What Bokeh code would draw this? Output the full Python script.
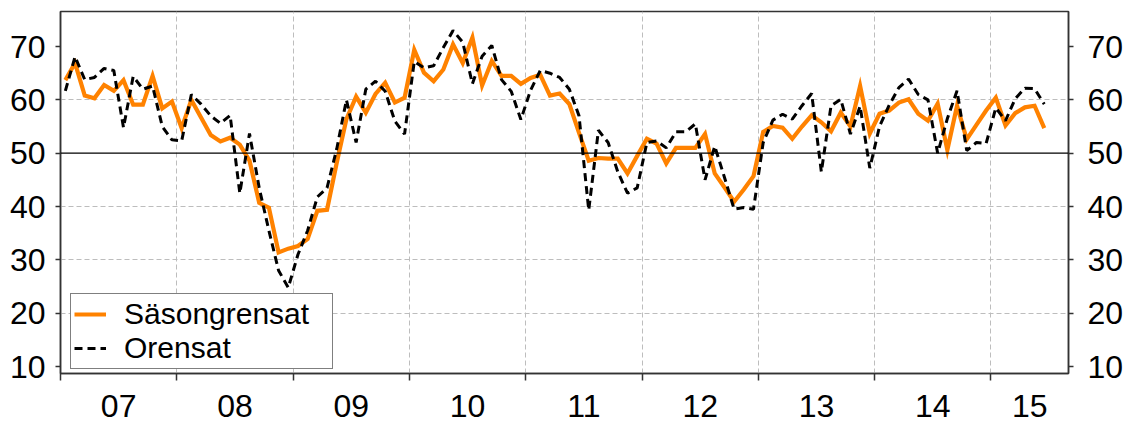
import pandas as pd
from bokeh.plotting import figure
from bokeh.models import Range1d, LinearAxis, FixedTicker, Span, Legend, LegendItem
from bokeh.embed import file_html
from bokeh.resources import INLINE

# ---- data (monthly, Jan 2007 - Jun 2015) ----
start_month = "2007-01"
sasongrensat = [
    63.7, 66.9, 60.8, 60.3, 62.8, 61.7, 63.7, 59.1, 59.1, 64.5, 58.4, 59.7,
    54.7, 60.0, 56.7, 53.4, 52.2, 52.9, 51.6, 48.6, 40.7, 39.8, 31.4, 32.1,
    32.6, 33.9, 39.2, 39.4, 48.2, 56.4, 60.6, 57.6, 61.1, 63.2, 59.5, 60.4,
    69.4, 65.1, 63.5, 65.7, 70.4, 66.9, 71.7, 62.7, 67.3, 64.5, 64.5, 63.0,
    64.1, 64.7, 60.8, 61.2, 59.2, 53.8, 48.6, 49.1, 49.0, 49.0, 46.2, 49.5,
    52.7, 51.8, 48.1, 51.0, 51.0, 51.0, 53.6, 46.2, 43.6, 40.9, 43.2, 45.7,
    54.0, 55.1, 54.8, 52.7, 55.0, 57.1, 55.8, 54.1, 57.6, 55.0, 62.6, 53.7,
    57.4, 58.0, 59.5, 60.1, 57.4, 56.1, 59.3, 50.6, 58.9, 52.6, 55.3, 58.0,
    60.4, 55.2, 57.5, 58.6, 58.9, 54.7,
]
orensat = [
    61.7, 68.1, 63.8, 64.2, 65.9, 65.5, 54.8, 64.4, 62.0, 62.6, 55.0, 52.5,
    52.3, 61.0, 59.2, 57.0, 55.6, 57.1, 42.5, 53.7, 43.5, 35.5, 28.0, 24.8,
    31.0, 35.5, 41.8, 43.5, 50.8, 60.0, 52.0, 62.0, 63.5, 61.6, 56.0, 53.6,
    67.2, 66.0, 66.4, 69.8, 73.0, 70.8, 63.0, 68.2, 70.2, 63.8, 61.6, 56.3,
    61.8, 65.5, 65.0, 64.2, 62.0, 57.0, 39.3, 54.3, 52.0, 46.5, 42.5, 43.5,
    52.0, 52.3, 51.0, 54.0, 54.0, 55.5, 45.0, 51.3, 45.5, 39.5, 39.8, 39.5,
    52.0, 56.2, 57.3, 56.4, 58.9, 61.2, 46.5, 58.9, 60.1, 53.6, 58.8, 47.2,
    55.0, 59.0, 62.3, 63.9, 61.0, 60.0, 50.0, 56.5, 61.7, 50.5, 52.0, 51.8,
    58.5, 56.1, 60.2, 62.2, 62.1, 59.2,
]
year_labels = ["07", "08", "09", "10", "11", "12", "13", "14", "15"]
y_ticks = [10, 20, 30, 40, 50, 60, 70]
series_names = ["Säsongrensat", "Orensat"]

dates = pd.date_range(start_month, periods=len(sasongrensat), freq="MS")
x = [d.year + (d.month - 0.5) / 12.0 for d in dates]

x_start = 2007.0
x_end = 2015.0 + 8.0 / 12.0
boundaries = [2007 + k for k in range(len(year_labels))]
mids = [b + 0.5 for b in boundaries[:-1]] + [(boundaries[-1] + x_end) / 2.0]

FONT = "Liberation Sans"

p = figure(width=1126, height=423, output_backend="svg", toolbar_location=None,
           x_range=Range1d(x_start, x_end), y_range=Range1d(8.69, 76.57),
           min_border_left=60, min_border_right=56, min_border_top=11,
           min_border_bottom=50, background_fill_color="white",
           border_fill_color="white")
p.outline_line_color = "#333333"
p.outline_line_width = 1.5

# axes
p.xaxis.ticker = FixedTicker(ticks=mids, minor_ticks=boundaries)
p.xaxis.major_label_overrides = {m: lab for m, lab in zip(mids, year_labels)}
p.xaxis.major_tick_out = 0
p.xaxis.major_tick_in = 0
p.xaxis.minor_tick_out = 7
p.xaxis.minor_tick_in = 0
p.xaxis.major_label_standoff = 14

p.yaxis.ticker = FixedTicker(ticks=y_ticks)
right_axis = LinearAxis(ticker=FixedTicker(ticks=y_ticks))
p.add_layout(right_axis, "right")

for ax in p.xaxis + p.yaxis + [right_axis]:
    ax.axis_line_color = "#333333"
    ax.axis_line_width = 1.5
    ax.major_tick_line_color = "#333333"
    ax.minor_tick_line_color = "#333333"
    ax.major_tick_line_width = 1.5
    ax.minor_tick_line_width = 1.5
    ax.major_label_text_font = FONT
    ax.major_label_text_font_size = "32px"
    ax.major_label_text_color = "black"

for ax in p.yaxis + [right_axis]:
    ax.major_tick_out = 5
    ax.major_tick_in = 0
    ax.minor_tick_out = 0
    ax.minor_tick_in = 0
p.yaxis.major_label_standoff = 10
right_axis.major_label_standoff = 14

# grids
p.xgrid.ticker = FixedTicker(ticks=boundaries[1:])
p.ygrid.ticker = FixedTicker(ticks=[20, 30, 40, 60])
for g in (p.xgrid, p.ygrid):
    g.grid_line_color = "#bdbdbd"
    g.grid_line_dash = "5 3"
    g.grid_line_width = 1

p.add_layout(Span(location=50, dimension="width", line_color="black", line_width=1.2))

r1 = p.line(x, sasongrensat, line_color="#ff8200", line_width=4.2, line_join="miter")
r2 = p.line(x, orensat, line_color="black", line_width=3, line_dash="8 5")

legend = Legend(items=[LegendItem(label=series_names[0], renderers=[r1]),
                       LegendItem(label=series_names[1], renderers=[r2])],
                location=(10, 4), margin=0, padding=3, spacing=0,
                glyph_width=32, glyph_height=34, label_standoff=18,
                label_width=205, label_height=34,
                label_text_font=FONT, label_text_font_size="30px",
                label_text_color="black",
                border_line_color="black", border_line_width=1,
                background_fill_color="white", background_fill_alpha=1.0)
p.add_layout(legend)

open("out.html", "w").write(file_html(p, INLINE))
